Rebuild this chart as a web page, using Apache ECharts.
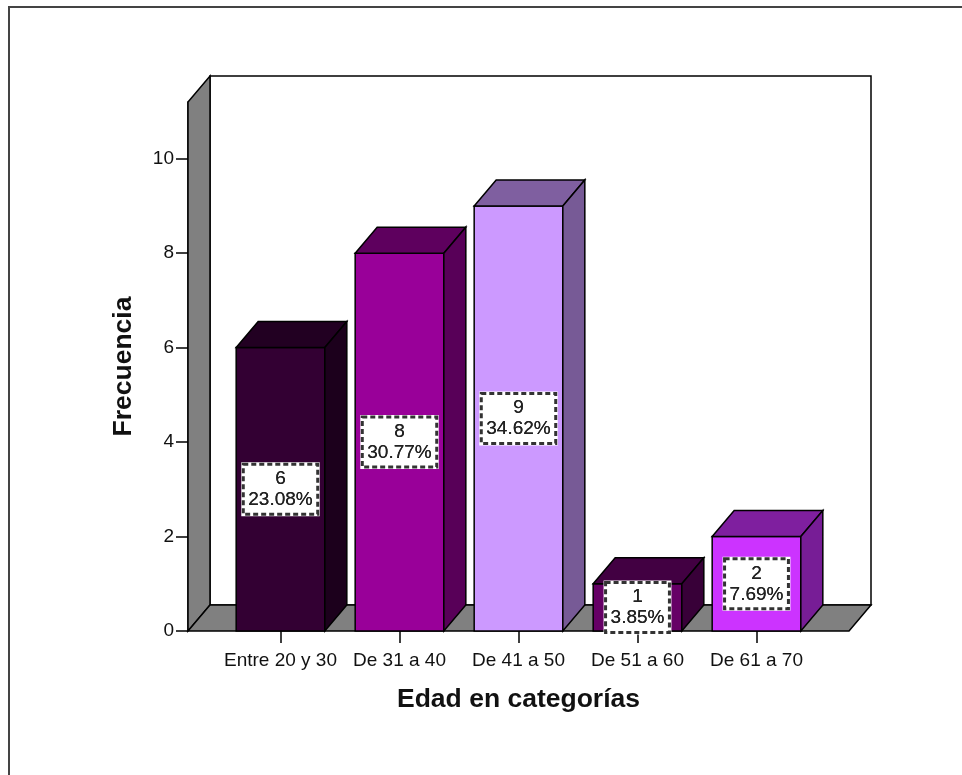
<!DOCTYPE html>
<html>
<head>
<meta charset="utf-8">
<script src="https://cdn.jsdelivr.net/npm/echarts@6/dist/echarts.min.js"></script>
<style>
  html, body { margin: 0; padding: 0; background: #fff; }
  #chart { width: 962px; height: 775px; }
</style>
</head>
<body>
<div id="chart"></div>
<script>
const categories = ['Entre 20 y 30', 'De 31 a 40', 'De 41 a 50', 'De 51 a 60', 'De 61 a 70']
const frequencies = [6, 8, 9, 1, 2]
const percents = ['23.08', '30.77', '34.62', '3.85', '7.69']
const yTicks = [0, 2, 4, 6, 8, 10]

const frontColors = ['#330033', '#990099', '#cc99ff', '#660066', '#cc33ff']
const topColors = ['#220022', '#5e005e', '#7f5fa0', '#420042', '#7f1f9f']
const sideColors = ['#1c001c', '#580058', '#775a96', '#380038', '#771d96']

const FONT = '"Liberation Sans", Arial, sans-serif'
const DX = 22
const DY = -26
const EXT = 33

const chart = echarts.init(document.getElementById('chart'))

function renderFrame(params, api) {
  const cs = params.coordSys
  const x0 = cs.x - EXT
  const x1 = cs.x + cs.width + EXT
  const yT = cs.y
  const yB = cs.y + cs.height
  const stroke = { stroke: '#000', lineWidth: 1.5 }
  return {
    type: 'group',
    children: [
      {
        type: 'rect',
        shape: { x: x0 + DX, y: yT + DY, width: x1 - x0, height: yB - yT },
        style: { fill: '#fff', ...stroke }
      },
      {
        type: 'polygon',
        shape: { points: [[x0, yT], [x0 + DX, yT + DY], [x0 + DX, yB + DY], [x0, yB]] },
        style: { fill: '#808080', ...stroke }
      },
      {
        type: 'polygon',
        shape: { points: [[x0, yB], [x0 + DX, yB + DY], [x1 + DX, yB + DY], [x1, yB]] },
        style: { fill: '#808080', ...stroke }
      }
    ]
  }
}

function labelStyle(i, dashed) {
  return {
    text: frequencies[i] + '\n' + percents[i] + '%',
    fill: '#222',
    font: '19px ' + FONT,
    lineHeight: 21,
    align: 'center',
    verticalAlign: 'middle',
    backgroundColor: dashed ? 'transparent' : '#fff',
    borderColor: dashed ? '#333' : '#fff',
    borderWidth: dashed ? 1.5 : 2,
    borderDash: dashed ? [5, 3] : null,
    padding: [4, 5]
  }
}

function renderBar(params, api) {
  const i = api.value(0)
  const v = api.value(1)
  const base = api.coord([i, 0])
  const top = api.coord([i, v])
  const bw = api.size([1, 0])[0] * 0.745
  const l = base[0] - bw / 2
  const r = base[0] + bw / 2
  const t = top[1]
  const b = base[1]
  const stroke = { stroke: '#000', lineWidth: 1.5 }
  return {
    type: 'group',
    children: [
      {
        type: 'rect',
        shape: { x: l, y: t, width: bw, height: b - t },
        style: { fill: frontColors[i], ...stroke }
      },
      {
        type: 'polygon',
        shape: { points: [[l, t], [l + DX, t + DY], [r + DX, t + DY], [r, t]] },
        style: { fill: topColors[i], ...stroke }
      },
      {
        type: 'polygon',
        shape: { points: [[r, t], [r + DX, t + DY], [r + DX, b + DY], [r, b]] },
        style: { fill: sideColors[i], ...stroke }
      },
      { type: 'text', z2: 10, x: base[0], y: (t + b) / 2, style: labelStyle(i, false) },
      { type: 'text', z2: 11, x: base[0], y: (t + b) / 2, style: labelStyle(i, true) }
    ]
  }
}

chart.setOption({
  animation: false,
  backgroundColor: '#fff',
  graphic: [
    {
      type: 'rect',
      shape: { x: 9, y: 7, width: 1000, height: 1000 },
      style: { fill: 'none', stroke: '#444', lineWidth: 2 },
      z: -10
    }
  ],
  grid: { left: 221, right: 146, top: 102, bottom: 144 },
  xAxis: {
    type: 'category',
    data: categories,
    axisLine: { show: false },
    axisTick: { show: true, alignWithLabel: true, length: 12, lineStyle: { color: '#000', width: 1.5 } },
    axisLabel: { color: '#111', fontSize: 19, fontFamily: FONT, margin: 20, interval: 0 },
    name: 'Edad en categorías',
    nameLocation: 'middle',
    nameGap: 55,
    nameTextStyle: { color: '#111', fontSize: 26.5, fontWeight: 'bold', fontFamily: FONT }
  },
  yAxis: {
    type: 'value',
    min: 0,
    max: 11.2,
    interval: 2,
    offset: EXT,
    splitLine: { show: false },
    axisLine: { show: true, lineStyle: { color: '#000', width: 1.5 } },
    axisTick: { show: true, length: 12, customValues: yTicks, lineStyle: { color: '#000', width: 1.5 } },
    axisLabel: { color: '#111', fontSize: 19, fontFamily: FONT, margin: 14, customValues: yTicks },
    name: 'Frecuencia',
    nameLocation: 'middle',
    nameGap: 51,
    nameTextStyle: { color: '#111', fontSize: 26.5, fontWeight: 'bold', fontFamily: FONT }
  },
  series: [
    {
      type: 'custom',
      z: 1,
      renderItem: renderFrame,
      data: [[0, 0]],
      silent: true
    },
    {
      type: 'custom',
      z: 3,
      renderItem: renderBar,
      encode: { x: 0, y: 1 },
      data: frequencies.map((v, i) => [i, v])
    }
  ]
})
</script>
</body>
</html>
